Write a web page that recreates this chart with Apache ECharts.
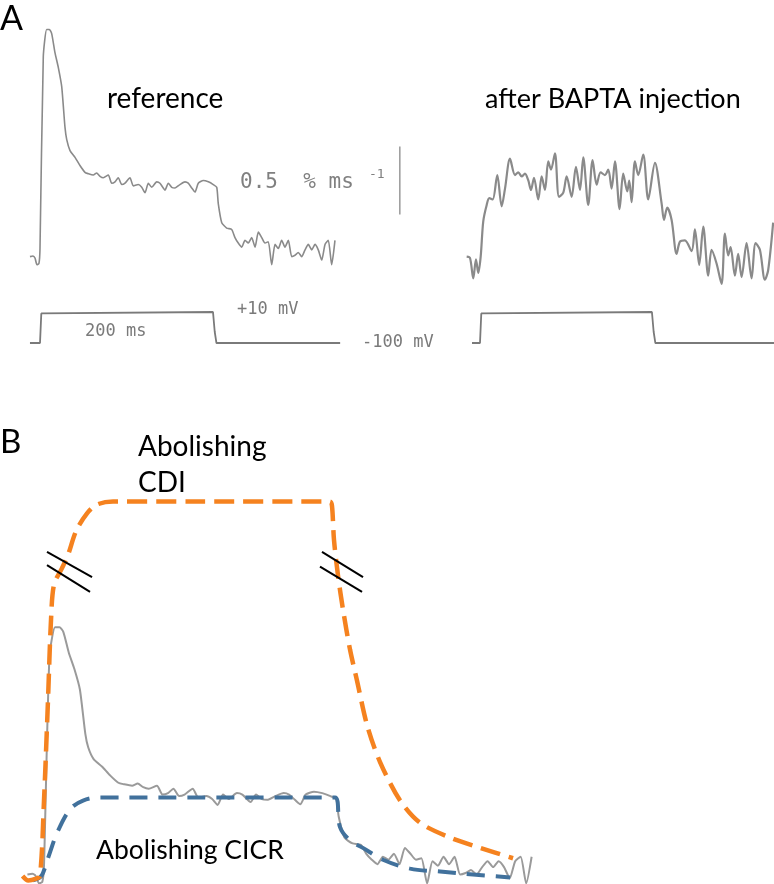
<!DOCTYPE html>
<html>
<head>
<meta charset="utf-8">
<script src="https://cdn.jsdelivr.net/npm/echarts@6/dist/echarts.min.js"></script>
<style>html,body{margin:0;padding:0;background:#fff}#c{width:774px;height:884px}</style>
</head>
<body>
<div id="c"></div>
<script>
// ---- Panel A: reference Ca release flux (time in ms, flux in % ms^-1) ----
const refTime = [-11.6,-8.1,-5.8,-3.5,-1.2,0,3.8,7.7,10.8,13.5,17.3,21.2,25.1,28.9,30.9,34.7,40.5,46.2,52.0,55.8,61.6,65.5,69.4,73.2,79.0,82.9,86.7,90.5,94.5,98.3,104.0,107.9,113.6,117.6,121.4,125.2,129.1,134.9,138.7,144.5,148.3,152.3,156.1,161.8,167.6,171.4,175.4,179.2,183.0,188.8,194.6,200.3,204.3,206.1,210.1,215.8,221.6,225.4,229.2,233.2,237.0,240.8,244.7,248.6,252.4,256.3,260.1,263.9,267.9,271.7,275.5,279.4,283.2,287.1,291.0,294.8,298.6,302.5,306.4,310.2,314.1,317.9,321.7,325.7,329.5,333.3,337.2,341.0];
const refFlux = [0.01,0.015,0,-0.05,-0.04,0.07,1.48,1.68,1.68,1.65,1.51,1.40,1.26,0.96,0.87,0.79,0.74,0.68,0.63,0.62,0.61,0.625,0.60,0.59,0.61,0.55,0.56,0.59,0.54,0.55,0.59,0.53,0.54,0.52,0.48,0.55,0.52,0.56,0.55,0.50,0.55,0.52,0.515,0.54,0.56,0.55,0.515,0.485,0.55,0.57,0.56,0.54,0.52,0.40,0.26,0.22,0.21,0.15,0.11,0.08,0.13,0.11,0.15,0.08,0.19,0.15,0.11,0.12,-0.05,0.10,0.07,0.13,0.08,0.13,0.01,0.02,0.04,0.01,0.06,0.10,0.06,0.10,0.06,-0.015,0.10,0.13,-0.05,0.13];

// ---- Panel A: after BAPTA injection ----
const baptaTime = [-15.5,-11.6,-7.8,-4.7,-2.0,0.8,3.8,7.8,10.8,14.8,20.1,25.2,29.1,34.9,40.7,44.5,48.5,52.3,56.2,59.3,62.8,67.8,71.7,75.6,79.4,82.6,87.2,91.9,96.9,100.8,106.6,111.6,116.3,120.1,125.9,131.0,135.7,140.3,145.3,149.2,153.1,157.0,162.4,166.6,171.3,173.6,176.4,180.2,184.1,189.9,195.7,203.5,211.3,214.0,217.8,222.9,228.7,232.6,238.4,246.2,250.0,255.0,259.7,265.5,269.4,275.2,281.0,284.9,288.7,291.5,296.5,300.3,304.3,310.1,315.9,320.6,325.6,331.4,335.2,341.0];
const baptaFlux = [0.01,0,-0.15,-0.01,-0.11,0.01,0.27,0.39,0.44,0.43,0.61,0.38,0.51,0.73,0.61,0.63,0.60,0.62,0.57,0.50,0.59,0.43,0.60,0.50,0.71,0.65,0.77,0.45,0.48,0.60,0.45,0.67,0.50,0.74,0.39,0.72,0.54,0.63,0.61,0.65,0.51,0.71,0.36,0.62,0.49,0.57,0.41,0.71,0.61,0.76,0.43,0.70,0.40,0.28,0.37,0.28,0.03,0.12,0.13,0.05,0.21,-0.05,0.23,-0.13,0.06,-0.04,-0.19,0.18,0.02,0.08,-0.13,0.03,-0.14,0.11,-0.15,0.11,0.06,-0.16,-0.09,0.26];

// ---- Voltage protocol (mV) ----
const refPulseTime = [-11.6,0,1.5,3,200,202,204,347];
const refPulseVolt = [-100,-100,5,10,10,-60,-100,-100];
const baptaPulseTime = [-9.3,0,1.5,3,200,202,204,342];
const baptaPulseVolt = [-100,-100,5,10,10,-60,-100,-100];

// ---- Scale bar: 0.5 % ms^-1 ----
const scaleBarTime = [416,416];
const scaleBarFlux = [0.32,0.82];

// ---- Panel B: hypothetical fluxes ----
const cdiTime = [-15,-11,-6,-2.8,0,2.8,4.9,7.0,12.6,16.8,22.4,30.1,37.1,48.3,109,200,201.4,202.8,205.6,209.1,214,218.9,225.9,235,249,262.9,283.9,304.9,328];
const cdiFlux = [0,-0.03,-0.02,0,0.51,1.19,1.73,1.97,2.08,2.17,2.33,2.45,2.51,2.53,2.53,2.53,2.50,2.27,2.03,1.80,1.53,1.32,1.02,0.77,0.51,0.36,0.26,0.19,0.12];
const cicrTime = [-7.7,-2.8,-0.7,4.2,9.1,18.2,27.3,39.2,120,203.5,207,214,223,237,256,277,300,326];
const cicrFlux = [-0.03,-0.01,0.02,0.16,0.29,0.45,0.51,0.53,0.53,0.53,0.33,0.24,0.19,0.11,0.05,0.03,0.01,-0.01];

// ---- Axis-break marks (data coordinates of panel B) ----
const breakLeft1 = [[2.1,2.19],[33.6,2.02]];
const breakLeft2 = [[2.1,2.10],[32.2,1.92]];
const breakRight1 = [[194.4,2.19],[223.1,2.02]];
const breakRight2 = [[193.0,2.09],[222.4,1.92]];

const zip = (a, b) => a.map((x, i) => [x, b[i]]);

const chart = echarts.init(document.getElementById('c'), null, {renderer: 'canvas'});
const xA = (gi, min, max) => ({type: 'value', gridIndex: gi, min, max, show: false});
const yA = (gi, min, max) => ({type: 'value', gridIndex: gi, min, max, show: false});
const line = (xi, data, color, width, extra) => Object.assign({
  type: 'line', xAxisIndex: xi, yAxisIndex: xi, data, showSymbol: false, symbol: 'none',
  clip: false, silent: true, animation: false,
  lineStyle: {color, width}
}, extra || {});

const labelFont = 'Lato';
const txt = (text, x, y, size, fill, family, align) => ({
  type: 'text', x, y, silent: true,
  style: {text, fontSize: size, fontFamily: family || labelFont, fill: fill || '#000',
          textAlign: align || 'left', textVerticalAlign: 'middle'}
});

chart.setOption({
  animation: false,
  backgroundColor: '#fff',
  grid: [
    {left: 22.7, top: 13.2, width: 380.6, height: 285.6},   // A reference
    {left: 462.8, top: 13.2, width: 311.3, height: 285.6},  // A BAPTA
    {left: 22.7, top: 309.2, width: 380.6, height: 39.45},  // voltage ref
    {left: 462.8, top: 309.2, width: 311.3, height: 39.45}, // voltage BAPTA
    {left: 15.4, top: 476.4, width: 521.95, height: 407}    // B
  ],
  xAxis: [xA(0,-20,420), xA(1,-20,342), xA(2,-20,420), xA(3,-20,342), xA(4,-20,345)],
  yAxis: [yA(0,-0.3,1.8), yA(1,-0.3,1.8), yA(2,-120,20), yA(3,-120,20), yA(4,-0.05,2.7)],
  series: [
    line(0, zip(refTime, refFlux), '#8a8a8a', 1.6, {smooth: 0.2}),
    line(0, zip(scaleBarTime, scaleBarFlux), '#8a8a8a', 1.3),
    line(1, zip(baptaTime, baptaFlux), '#8a8a8a', 2.2, {smooth: 0.3}),
    line(2, zip(refPulseTime, refPulseVolt), '#7a7a7a', 1.8),
    line(3, zip(baptaPulseTime, baptaPulseVolt), '#7a7a7a', 1.8),
    line(4, zip(refTime, refFlux), '#9a9a9a', 2, {smooth: 0.2}),
    line(4, zip(cicrTime, cicrFlux), '#41719c', 4, {smooth: 0.35, lineStyle: {color: '#41719c', width: 4, type: [18, 11]}}),
    line(4, zip(cdiTime, cdiFlux), '#f5821f', 4.5, {smooth: 0.3, lineStyle: {color: '#f5821f', width: 4.5, type: [20, 9]}}),
    line(4, breakLeft1, '#000', 2),
    line(4, breakLeft2, '#000', 2),
    line(4, breakRight1, '#000', 2),
    line(4, breakRight2, '#000', 2)
  ],
  graphic: [
    txt('A', 0, 19, 34),
    txt('B', 0, 442, 33),
    txt('reference', 107, 99, 28),
    txt('after BAPTA injection', 485, 99, 27),
    txt('0.5  % ms', 240, 183, 21, '#808080', 'DejaVu Sans Mono'),
    txt('-1', 369, 175, 13, '#808080', 'DejaVu Sans Mono'),
    txt('+10 mV', 237, 310, 17, '#7a7a7a', 'DejaVu Sans Mono'),
    txt('200 ms', 85, 332, 17, '#7a7a7a', 'DejaVu Sans Mono'),
    txt('-100 mV', 362, 343, 17, '#7a7a7a', 'DejaVu Sans Mono'),
    txt('Abolishing', 138, 447, 28),
    txt('CDI', 138, 483, 28),
    txt('Abolishing CICR', 96, 850, 26.5)
  ]
});
</script>
</body>
</html>
